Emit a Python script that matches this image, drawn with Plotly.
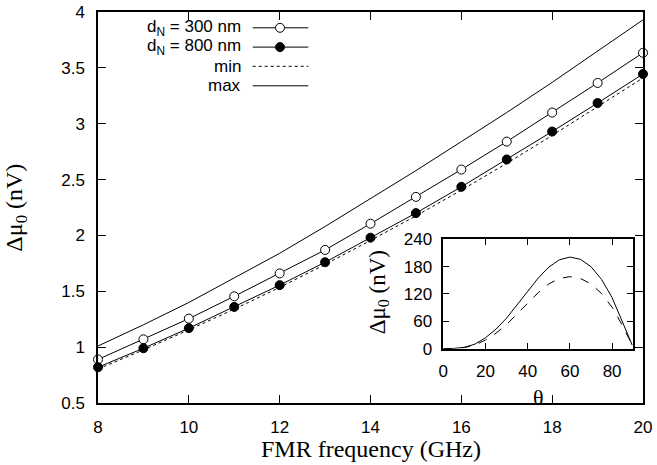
import plotly.graph_objects as go

# ---- main panel data ----
freq = [8, 9, 10, 11, 12, 13, 14, 15, 16, 17, 18, 19, 20]
dn300 = [0.89, 1.07, 1.255, 1.455, 1.66, 1.87, 2.105, 2.345, 2.59, 2.84, 3.10, 3.365, 3.635]
dn800 = [0.82, 0.99, 1.17, 1.36, 1.555, 1.76, 1.98, 2.20, 2.435, 2.68, 2.93, 3.185, 3.445]
vmin = [0.805, 0.975, 1.155, 1.34, 1.535, 1.74, 1.955, 2.175, 2.405, 2.645, 2.895, 3.15, 3.41]
vmax = [1.01, 1.20, 1.40, 1.62, 1.84, 2.08, 2.33, 2.58, 2.84, 3.10, 3.37, 3.65, 3.93]
x_ticks = [8, 10, 12, 14, 16, 18, 20]
y_ticks = [0.5, 1, 1.5, 2, 2.5, 3, 3.5, 4]
y_ticktext = ["0.5", "1", "1.5", "2", "2.5", "3", "3.5", "4"]

# ---- inset data ----
theta = [0, 5, 10, 15, 20, 25, 30, 35, 40, 45, 50, 55, 60, 65, 70, 75, 80, 85, 88, 89.5]
inset_solid = [0, 0.5, 3, 10, 24, 43, 67, 96, 126, 155, 179, 195, 201, 196, 180, 152, 112, 60, 25, 8]
inset_dash = [0, 0.4, 2.5, 8, 19, 34, 53, 76, 100, 123, 142, 154, 158, 154, 142, 121, 91, 50, 22, 8]
inset_xticks = [0, 20, 40, 60, 80]
inset_yticks = [0, 60, 120, 180, 240]

SANS = "Liberation Sans, Arial, sans-serif"
SERIF = "Liberation Serif, Times New Roman, serif"
BLACK = "black"

fig = go.Figure()

fig.add_trace(go.Scatter(x=freq, y=vmax, mode="lines", line=dict(color=BLACK, width=1), showlegend=False))
fig.add_trace(go.Scatter(x=freq, y=vmin, mode="lines", line=dict(color=BLACK, width=1, dash="dot"), showlegend=False))
fig.add_trace(go.Scatter(x=freq, y=dn300, mode="lines+markers", line=dict(color=BLACK, width=1),
                         marker=dict(symbol="circle", size=9, color="white", line=dict(color=BLACK, width=1)),
                         showlegend=False, cliponaxis=False))
fig.add_trace(go.Scatter(x=freq, y=dn800, mode="lines+markers", line=dict(color=BLACK, width=1),
                         marker=dict(symbol="circle", size=9, color=BLACK, line=dict(color=BLACK, width=1)),
                         showlegend=False, cliponaxis=False))

fig.add_trace(go.Scatter(x=theta, y=inset_solid, mode="lines", line=dict(color=BLACK, width=1),
                         xaxis="x2", yaxis="y2", showlegend=False))
fig.add_trace(go.Scatter(x=theta, y=inset_dash, mode="lines", line=dict(color=BLACK, width=1, dash="dash"),
                         xaxis="x2", yaxis="y2", showlegend=False))

axis_common = dict(showline=True, linecolor=BLACK, linewidth=1.5, mirror="ticks", ticks="inside",
                   tickcolor=BLACK, tickwidth=1, showgrid=False, zeroline=False, automargin=False,
                   tickfont=dict(family=SANS, size=17, color=BLACK))

fig.update_layout(
    template="none",
    width=657, height=465,
    margin=dict(l=98, r=14, t=12, b=62, autoexpand=False),
    paper_bgcolor="white", plot_bgcolor="white",
    xaxis=dict(range=[8, 20], tickvals=x_ticks, ticklen=8, ticklabelstandoff=8, domain=[0, 1], **axis_common),
    yaxis=dict(range=[0.5, 4], tickvals=y_ticks, ticktext=y_ticktext, ticklen=8, ticklabelstandoff=8,
               domain=[0, 1], **axis_common),
    xaxis2=dict(range=[0, 90], tickvals=inset_xticks, ticklen=6, ticklabelstandoff=6,
                domain=[0.6336, 0.982], anchor="y2", **axis_common),
    yaxis2=dict(range=[0, 240], tickvals=inset_yticks, ticklen=6, ticklabelstandoff=6,
                domain=[0.139, 0.4187], anchor="x2", **axis_common),
    showlegend=False,
)

annotations = [
    dict(text="FMR frequency (GHz)", xref="paper", yref="paper", x=0.5, y=-0.118, xanchor="center",
         yanchor="middle", showarrow=False, font=dict(family=SERIF, size=24, color=BLACK)),
    dict(text="Δμ<sub>0</sub> (nV)", xref="paper", yref="paper", x=-0.152, y=0.5, xanchor="center",
         yanchor="middle", textangle=-90, showarrow=False, font=dict(family=SERIF, size=24, color=BLACK)),
    dict(text="Δμ<sub>0</sub> (nV)", xref="paper", yref="paper", x=(379 - 98) / 545, y=0.283, xanchor="center",
         yanchor="middle", textangle=-90, showarrow=False, font=dict(family=SERIF, size=23, color=BLACK)),
    dict(text="θ", xref="paper", yref="paper", x=(538.3 - 98) / 545, y=(402.7 - 396.7) / 391, xanchor="center",
         yanchor="middle", showarrow=False, font=dict(family=SERIF, size=22, color=BLACK)),
]

# manual legend (text on the left, sample on the right)
leg_labels = ["d<sub>N</sub> = 300 nm", "d<sub>N</sub> = 800 nm", "min", "max"]
leg_rows_px = [27.5, 46.8, 66.0, 85.5]
leg_text_x = (242.7 - 98) / 545
s0 = (252.7 - 98) / 545
s1 = (308.3 - 98) / 545
smid = (280 - 98) / 545
shapes = []
for i, (lab, ypx) in enumerate(zip(leg_labels, leg_rows_px)):
    yp = (402.7 - ypx) / 391
    annotations.append(dict(text=lab, xref="paper", yref="paper", x=leg_text_x, y=yp, xanchor="right",
                            yanchor="middle", showarrow=False, font=dict(family=SANS, size=17, color=BLACK)))
    dash = "dot" if lab == "min" else "solid"
    shapes.append(dict(type="line", xref="paper", yref="paper", x0=s0, x1=s1, y0=yp, y1=yp,
                       line=dict(color=BLACK, width=1, dash=dash)))
    if i < 2:
        shapes.append(dict(type="circle", xref="paper", yref="paper", xsizemode="pixel", ysizemode="pixel",
                           xanchor=smid, yanchor=yp, x0=-4.5, x1=4.5, y0=-4.5, y1=4.5,
                           fillcolor="white" if i == 0 else BLACK, line=dict(color=BLACK, width=1)))

fig.update_layout(annotations=annotations, shapes=shapes)

fig.write_html("out.html", config={"displayModeBar": False},
               post_script="document.body.style.margin='0';")
